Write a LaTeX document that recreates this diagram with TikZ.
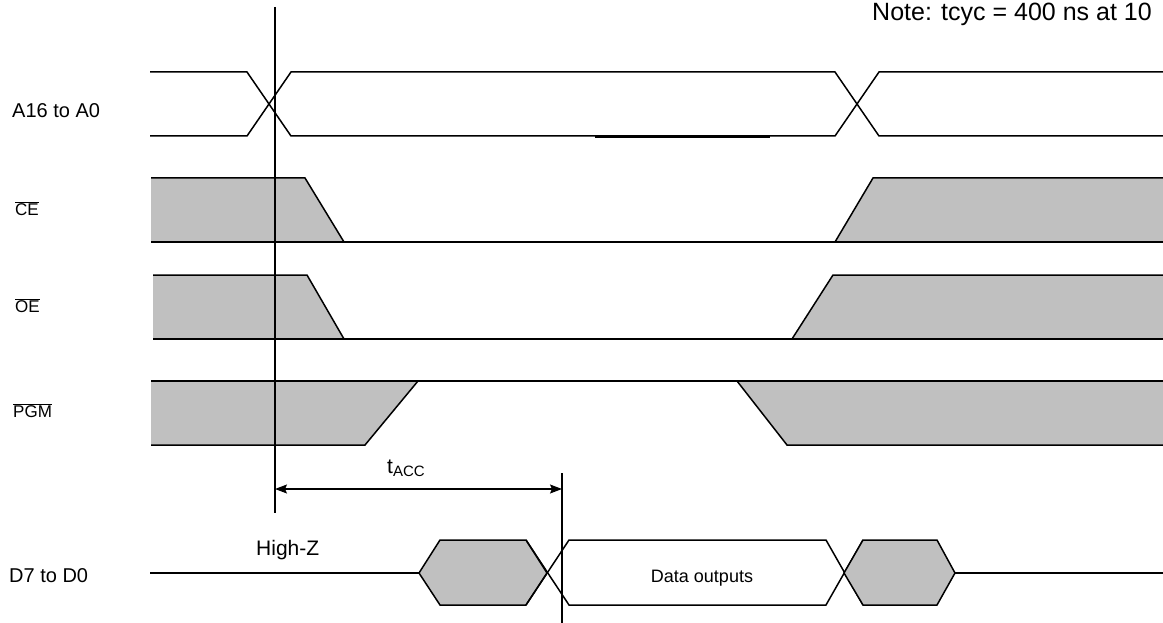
\documentclass[tikz,border=0pt]{standalone}
\usepackage{fontspec}
\setmainfont{Liberation Sans}
\usetikzlibrary{arrows.meta}
\definecolor{gray75}{HTML}{C0C0C0}
\begin{document}
\begin{tikzpicture}[x=1pt,y=-1pt,
  sig/.style={line width=1.5pt, line join=miter, line cap=butt},
  gfill/.style={fill=gray75},
  lbl/.style={anchor=base west, inner sep=0pt, font=\fontsize{20}{24}\selectfont},
  olbl/.style={anchor=base west, inner sep=0pt, font=\fontsize{17}{20}\selectfont},
  dim/.style={line width=1.2pt, {Stealth[length=12pt,width=9pt,inset=2pt]}-{Stealth[length=12pt,width=9pt,inset=2pt]}}]
\useasboundingbox (0,0) rectangle (1163,623);
\fill[white] (0,0) rectangle (1163,623);

% ---------- labels ----------
\node[lbl] (la) at (12,118) {A16 to A0};
\node[olbl] (lce) at (15,215) {$\overline{\mbox{CE}}$};
\node[olbl] (loe) at (15,312) {$\overline{\mbox{OE}}$};
\node[olbl] (lpgm) at (13,417) {$\overline{\mbox{PGM}}$};
\node[lbl] (ld) at (9,582) {D7 to D0};
\node[anchor=base west, inner sep=0pt, font=\fontsize{25}{30}\selectfont] (note) at (872,21) {Note: tcyc = 400 ns at 10};

% ---------- A16 to A0 ----------
\draw[sig] (150,72) -- (247,72) -- (291,136) -- (835,136) -- (879,72) -- (1163,72);
\draw[sig] (150,136) -- (247,136) -- (291,72) -- (835,72) -- (879,136) -- (1163,136);
\draw[line width=2.2pt] (595,136.5) -- (770,136.5);

% ---------- CE ----------
\fill[gfill] (151,178) -- (305,178) -- (344,242) -- (151,242) -- cycle;
\fill[gfill] (835,242) -- (873,178) -- (1163,178) -- (1163,242) -- cycle;
\draw[sig] (151,178) -- (305,178) -- (344,242);
\draw[sig] (151,242) -- (1163,242);
\draw[sig] (835,242) -- (873,178) -- (1163,178);

% ---------- OE ----------
\fill[gfill] (153,275) -- (307,275) -- (344,339) -- (153,339) -- cycle;
\fill[gfill] (792,339) -- (833,275) -- (1163,275) -- (1163,339) -- cycle;
\draw[sig] (153,275) -- (307,275) -- (344,339);
\draw[sig] (153,339) -- (1163,339);
\draw[sig] (792,339) -- (833,275) -- (1163,275);

% ---------- PGM ----------
\fill[gfill] (151,381) -- (418,381) -- (365,445) -- (151,445) -- cycle;
\fill[gfill] (737,381) -- (1163,381) -- (1163,445) -- (787,445) -- cycle;
\draw[sig] (151,381) -- (1163,381);
\draw[sig] (151,445) -- (365,445) -- (418,381);
\draw[sig] (737,381) -- (787,445) -- (1163,445);

% ---------- reference lines ----------
\coordinate (v1top) at (275,7);
\coordinate (v1bot) at (275,513);
\coordinate (v2top) at (562,473);
\coordinate (v2bot) at (562,623);
\draw[line width=1.5pt] (v1top) -- (v1bot);
\draw[line width=1.5pt] (v2top) -- (v2bot);
\coordinate (a1) at (275,489);
\coordinate (a2) at (562,489);
\draw[dim] (a1) -- (a2);
\node[anchor=base west, inner sep=0pt, font=\fontsize{21}{24}\selectfont] (tacc) at (387,473) {t\raisebox{-3.5pt}{\fontsize{15}{18}\selectfont ACC}};

% ---------- D7 to D0 ----------
\draw[sig] (150,573) -- (419,573);
\filldraw[sig, gfill] (419,573) -- (440,540) -- (526,540) -- (547,573) -- (526,605) -- (440,605) -- cycle;
\draw[sig] (526,540) -- (569,605) -- (826,605) -- (863,540);
\draw[sig] (526,605) -- (569,540) -- (826,540) -- (863,605);
\filldraw[sig, gfill] (844,573) -- (863,540) -- (937,540) -- (955,573) -- (937,605) -- (863,605) -- cycle;
\draw[sig] (955,573) -- (1163,573);
\node[anchor=base, inner sep=0pt, font=\fontsize{18}{22}\selectfont] (data) at (702,582) {Data outputs};
\node[anchor=base west, inner sep=0pt, font=\fontsize{21}{24}\selectfont] (hz) at (256,555) {High-Z};
\end{tikzpicture}
\end{document}
